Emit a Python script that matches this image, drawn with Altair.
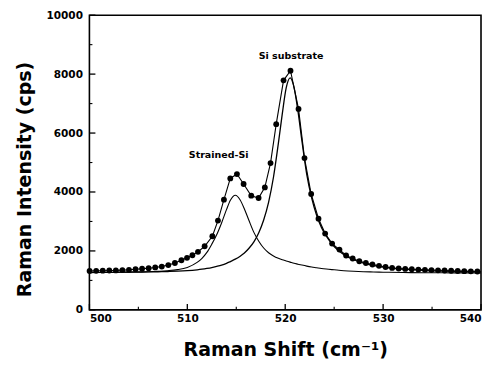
import altair as alt
import pandas as pd

# measured spectrum (dots)
data_x = [500.02, 500.69, 501.36, 502.03, 502.70, 503.37, 504.04, 504.71, 505.38, 506.05,
          506.72, 507.39, 508.06, 508.73, 509.40, 509.97, 510.52, 511.09, 511.77, 512.56,
          513.13, 513.74, 514.39, 515.07, 515.75, 516.53, 517.28, 517.92, 518.50, 519.08,
          519.83, 520.54, 521.36, 521.97, 522.65, 523.40, 524.08, 524.79, 525.54, 526.22,
          526.89, 527.57, 528.24, 528.91, 529.58, 530.25, 530.92, 531.59, 532.26, 532.93,
          533.60, 534.27, 534.94, 535.61, 536.28, 536.95, 537.62, 538.29, 538.96, 539.63]
data_y = [1320, 1325, 1330, 1335, 1340, 1350, 1360, 1380, 1395, 1415,
          1440, 1470, 1520, 1590, 1685, 1766, 1854, 1970, 2159, 2497,
          3029, 3739, 4460, 4609, 4271, 3875, 3797, 4156, 4981, 6301,
          7790, 8115, 6819, 5150, 3932, 3096, 2589, 2250, 2047, 1844,
          1743, 1651, 1590, 1540, 1495, 1455, 1425, 1405, 1390, 1378,
          1368, 1358, 1350, 1342, 1335, 1328, 1320, 1314, 1308, 1302]

# fitted components
fit_x = [500, 502, 504, 506, 507, 508, 509, 510, 511, 511.5, 512, 512.5, 513, 513.5, 514,
         514.4, 514.9, 515.4, 515.8, 516.3, 516.8, 517.3, 517.8, 518.3, 518.8, 519.3, 519.7,
         520.1, 520.5, 520.9, 521.3, 521.7, 522.2, 522.7, 523.2, 523.7, 524.2, 525, 526, 527,
         528, 529, 530, 532, 534, 536, 538, 540]
strained_y = [1265, 1270, 1280, 1295, 1310, 1330, 1365, 1440, 1610, 1750, 1950, 2230, 2550, 2950, 3400,
              3720, 3890, 3730, 3450, 3030, 2630, 2330, 2100, 1940, 1830, 1750, 1700,
              1660, 1620, 1580, 1550, 1520, 1485, 1455, 1430, 1405, 1385, 1360, 1330, 1310,
              1295, 1285, 1278, 1268, 1262, 1258, 1255, 1253]
si_y = [1270, 1275, 1280, 1288, 1294, 1302, 1312, 1330, 1360, 1380, 1405, 1435, 1475, 1520, 1580,
        1640, 1720, 1820, 1920, 2090, 2310, 2620, 3050, 3650, 4500, 5650, 6650,
        7530, 7870, 7550, 6750, 5750, 4600, 3800, 3220, 2800, 2500, 2150, 1870, 1700,
        1590, 1510, 1450, 1380, 1340, 1315, 1300, 1290]

x_major = [500, 510, 520, 530, 540]
x_minor = [505, 515, 525, 535]
y_major = [0, 2000, 4000, 6000, 8000, 10000]
y_minor = [1000, 3000, 5000, 7000, 9000]

ann_text = ["Strained-Si", "Si substrate"]
ann_x = [513.2, 520.6]
ann_y = [5262, 8612]

W, H = 392, 295
FONT = "DejaVu Sans"

xs = alt.Scale(domain=[500, 540], nice=False, zero=False)
ys = alt.Scale(domain=[0, 10000], nice=False, zero=False)

x_axis = alt.Axis(title="Raman Shift (cm⁻¹)", values=x_major, format="d",
                  labelPadding=4, titleY=46, titleBaseline="alphabetic")
y_axis = alt.Axis(title="Raman Intensity (cps)", values=y_major, format="d",
                  labelPadding=7, titleX=-65, titleY=164, titleAngle=270,
                  titleAlign="center", titleBaseline="middle")


def X(field):
    return alt.X(field, type="quantitative", scale=xs, axis=x_axis)


def Y(field):
    return alt.Y(field, type="quantitative", scale=ys, axis=y_axis)


meas = pd.DataFrame({"x": data_x, "y": data_y})
strained = pd.DataFrame({"x": fit_x, "y": strained_y})
si = pd.DataFrame({"x": fit_x, "y": si_y})
ann = pd.DataFrame({"t": ann_text, "x": ann_x, "y": ann_y})

dots = alt.Chart(meas).mark_circle(color="black", size=34, opacity=1).encode(x=X("x"), y=Y("y"))
dline = alt.Chart(meas).mark_line(color="black", strokeWidth=1.1).encode(x=X("x"), y=Y("y"))
sline = alt.Chart(strained).mark_line(color="black", strokeWidth=1.1, interpolate="monotone").encode(x=X("x"), y=Y("y"))
siline = alt.Chart(si).mark_line(color="black", strokeWidth=1.3, interpolate="monotone").encode(x=X("x"), y=Y("y"))

labels = alt.Chart(ann).mark_text(font=FONT, fontWeight="bold", fontSize=9.5, color="black").encode(
    x=X("x"), y=Y("y"), text="t:N")

xmaj = alt.Chart(pd.DataFrame({"v": x_major})).mark_rule(color="black", strokeWidth=1.3).encode(
    x=X("v"), y=alt.value(H), y2=alt.value(H - 6))
xmin = alt.Chart(pd.DataFrame({"v": x_minor})).mark_rule(color="black", strokeWidth=1.1).encode(
    x=X("v"), y=alt.value(H), y2=alt.value(H - 3))
ymaj = alt.Chart(pd.DataFrame({"v": y_major})).mark_rule(color="black", strokeWidth=1.3).encode(
    y=Y("v"), x=alt.value(0), x2=alt.value(6))
ymin = alt.Chart(pd.DataFrame({"v": y_minor})).mark_rule(color="black", strokeWidth=1.1).encode(
    y=Y("v"), x=alt.value(0), x2=alt.value(3))

chart = alt.layer(sline, siline, dline, dots, labels, xmaj, xmin, ymaj, ymin).properties(
    width=W, height=H,
    autosize=alt.AutoSizeParams(type="none"),
    padding={"left": 81.5, "top": 7, "right": 8, "bottom": 51},
    background="white",
).configure_view(
    stroke="black", strokeWidth=1.6
).configure_axis(
    domain=False, ticks=False, grid=False,
    labelFont=FONT, labelFontWeight="bold", labelFontSize=10.5, labelColor="black",
    titleFont=FONT, titleFontWeight="bold", titleFontSize=19, titleColor="black",
)

chart.save("out.html", embed_options={"renderer": "svg", "actions": False})
